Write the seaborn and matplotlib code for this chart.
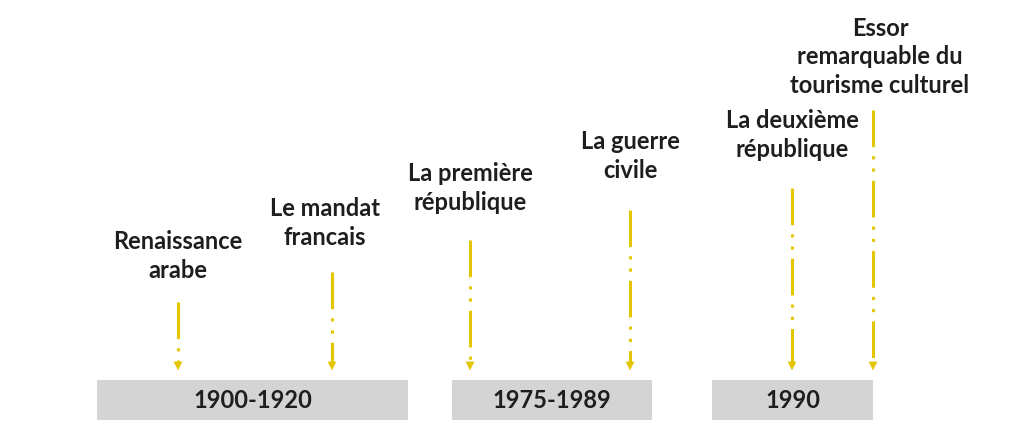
import numpy as np
import pandas as pd
import seaborn as sns
import matplotlib.pyplot as plt

sns.set_theme(style="white")
plt.rcParams["font.family"] = ["Lato", "DejaVu Sans"]

# periods (grey boxes) -----------------------------------------------------
period_labels = ["1900-1920", "1975-1989", "1990"]
period_start = [97, 452, 712]
period_end = [408, 652, 873]

# events (arrows + labels) -------------------------------------------------
event_labels = ["Renaissance\narabe", "Le mandat\nfrancais", "La première\nrépublique",
                "La guerre\ncivile", "La deuxième\nrépublique",
                "Essor\nremarquable du\ntourisme culturel"]
event_x = [178, 332, 470, 630, 792, 873]
event_top = [302, 272, 240, 210, 188, 110]
label_y = [256, 223, 188, 156, 135, 57]
label_x = [178, 325, 470, 630, 792, 880]

BOX_Y, BOX_H = 400, 40
YELLOW = "#e3c600"
GREY = "#d4d4d4"

fig = plt.figure(figsize=(10.11, 4.30), dpi=100)
ax = fig.add_axes([0, 0, 1, 1])
ax.set_xlim(0, 1011)
ax.set_ylim(430, 0)
ax.axis("off")

periods = pd.DataFrame({"label": period_labels, "start": period_start,
                        "width": np.array(period_end) - np.array(period_start)})
ax.barh([BOX_Y] * len(periods), periods["width"], left=periods["start"],
        height=BOX_H, color=GREY, edgecolor="none")
for _, r in periods.iterrows():
    ax.text(r["start"] + r["width"] / 2, BOX_Y + 1, r["label"], ha="center",
            va="center", fontsize=17, fontweight="bold", color="#1e1e1e")

for x, top, lx, ly, lab in zip(event_x, event_top, label_x, label_y, event_labels):
    ax.vlines(x, top, 362, color=YELLOW, lw=2.2, linestyles=(0, (12, 3, 1, 3, 1, 3)))
    ax.scatter([x], [366], marker="v", s=40, color=YELLOW, edgecolor="none", zorder=3)
    ax.text(lx, ly, lab, ha="center", va="center", fontsize=17, fontweight="bold",
            color="#1e1e1e", linespacing=1.27)

fig.savefig("out.png", dpi=100)
